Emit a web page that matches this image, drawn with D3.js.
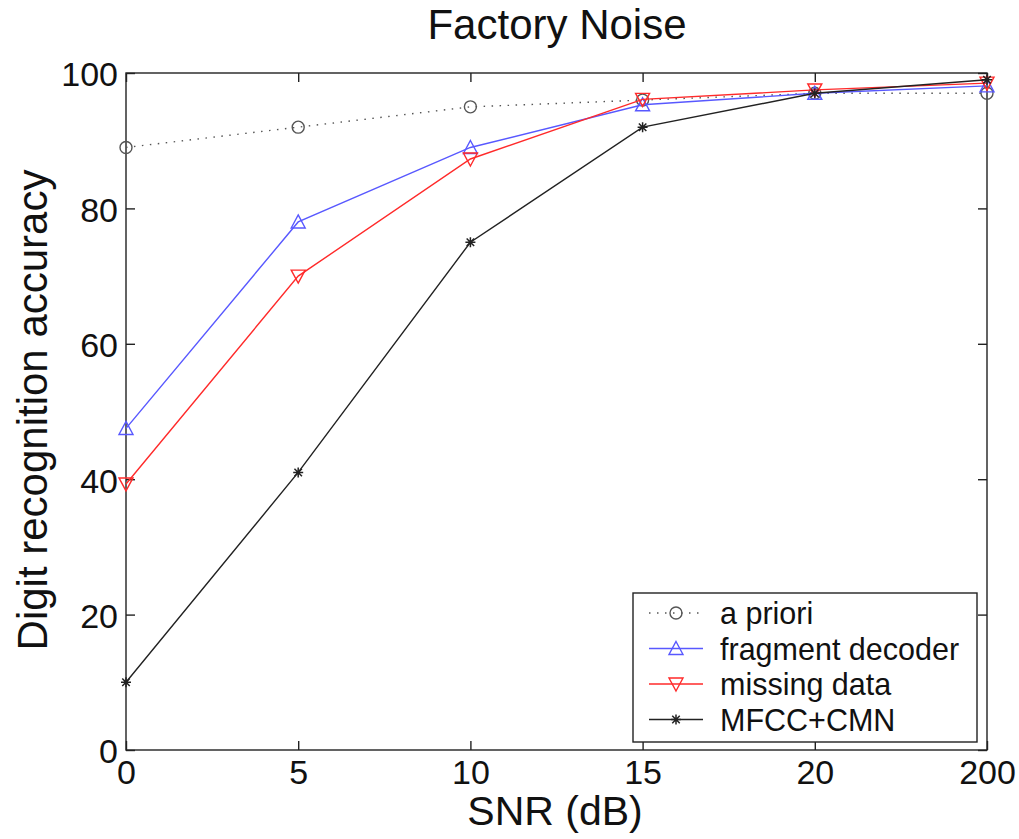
<!DOCTYPE html>
<html><head><meta charset="utf-8">
<script src="https://cdn.jsdelivr.net/npm/d3@7"></script>
<style>body{margin:0;background:#fff}svg{display:block}text{font-family:"Liberation Sans",Arial,sans-serif}</style>
</head><body>
<svg id="c" width="1019" height="839"></svg>
<script>
const categories = ["0","5","10","15","20","200"];
const aPriori = [89, 92, 95, 96, 97, 97];
const fragmentDecoder = [47.5, 78, 89, 95.3, 97, 98.1];
const missingData = [39.3, 70, 87.3, 96.1, 97.5, 98.5];
const mfccCmn = [10, 41, 75, 92, 97, 99];
const yTicks = [0, 20, 40, 60, 80, 100];

const svg = d3.select("#c");
const L = 126, R = 987, T = 73, B = 750;
const x = d3.scalePoint().domain(categories).range([L, R]);
const y = d3.scaleLinear().domain([0, 100]).range([B, T]);

svg.append("rect").attr("x", L).attr("y", T).attr("width", R - L).attr("height", B - T)
  .attr("fill", "none").attr("stroke", "#222").attr("stroke-width", 1.4);

const ax = svg.append("g").attr("transform", `translate(0,${B})`)
  .call(d3.axisBottom(x).tickSize(-9).tickPadding(14));
const axT = svg.append("g").attr("transform", `translate(0,${T})`)
  .call(d3.axisTop(x).tickSize(-9).tickFormat(""));
const ay = svg.append("g").attr("transform", `translate(${L},0)`)
  .call(d3.axisLeft(y).tickValues(yTicks).tickSize(-9).tickPadding(8));
const ayR = svg.append("g").attr("transform", `translate(${R},0)`)
  .call(d3.axisRight(y).tickValues(yTicks).tickSize(-9).tickFormat(""));
[ax, axT, ay, ayR].forEach(g => {
  g.select(".domain").remove();
  g.selectAll(".tick line").attr("stroke", "#222").attr("stroke-width", 1.4);
  g.selectAll("text").attr("font-size", 34).attr("fill", "#111")
    .attr("font-family", '"Liberation Sans",Arial,sans-serif');
});
ax.selectAll("text").attr("dy", "0.72em").attr("y", 10);
ay.selectAll("text").attr("dy", "0.38em");

svg.append("text").attr("x", 557).attr("y", 39).attr("text-anchor", "middle")
  .attr("font-size", 42).attr("fill", "#111").text("Factory Noise");
svg.append("text").attr("x", 555).attr("y", 825).attr("text-anchor", "middle")
  .attr("font-size", 41).attr("fill", "#111").text("SNR (dB)");
svg.append("text").attr("transform", "translate(47,410) rotate(-90)").attr("text-anchor", "middle")
  .attr("font-size", 42).attr("fill", "#111").text("Digit recognition accuracy");

const series = [
  {name: "a priori", values: aPriori, color: "#555", dash: "1.5,6.5", marker: "circle"},
  {name: "fragment decoder", values: fragmentDecoder, color: "#5858ff", dash: null, marker: "up"},
  {name: "missing data", values: missingData, color: "#ff2a2a", dash: null, marker: "down"},
  {name: "MFCC+CMN", values: mfccCmn, color: "#222", dash: null, marker: "star"}
];

function drawMarker(g, type, cx, cy, color) {
  if (type === "circle") {
    g.append("circle").attr("cx", cx).attr("cy", cy).attr("r", 6)
      .attr("fill", "none").attr("stroke", color).attr("stroke-width", 1.4);
  } else if (type === "up") {
    g.append("path").attr("d", `M${cx},${cy-7}L${cx+7},${cy+6}L${cx-7},${cy+6}Z`)
      .attr("fill", "none").attr("stroke", color).attr("stroke-width", 1.4);
  } else if (type === "down") {
    g.append("path").attr("d", `M${cx},${cy+7}L${cx+7},${cy-6}L${cx-7},${cy-6}Z`)
      .attr("fill", "none").attr("stroke", color).attr("stroke-width", 1.4);
  } else if (type === "star") {
    const s = 5;
    g.append("path").attr("d",
      `M${cx-s},${cy}L${cx+s},${cy}M${cx},${cy-s}L${cx},${cy+s}M${cx-s*0.75},${cy-s*0.75}L${cx+s*0.75},${cy+s*0.75}M${cx-s*0.75},${cy+s*0.75}L${cx+s*0.75},${cy-s*0.75}`)
      .attr("stroke", color).attr("stroke-width", 1.5);
  }
}

const line = d3.line().x((d, i) => x(categories[i])).y(d => y(d));
series.forEach(s => {
  const g = svg.append("g");
  g.append("path").datum(s.values).attr("d", line).attr("fill", "none")
    .attr("stroke", s.color).attr("stroke-width", 1.4)
    .attr("stroke-dasharray", s.dash);
  s.values.forEach((v, i) => drawMarker(g, s.marker, x(categories[i]), y(v), s.color));
});

const lg = svg.append("g");
lg.append("rect").attr("x", 633).attr("y", 593).attr("width", 344).attr("height", 149)
  .attr("fill", "#fff").attr("stroke", "#222").attr("stroke-width", 1.4);
series.forEach((s, i) => {
  const yy = 613 + i * 35.5;
  lg.append("line").attr("x1", 649).attr("x2", 703).attr("y1", yy).attr("y2", yy)
    .attr("stroke", s.color).attr("stroke-width", 1.4).attr("stroke-dasharray", s.dash);
  drawMarker(lg, s.marker, 676, yy, s.color);
  lg.append("text").attr("x", 720).attr("y", yy + 11).attr("font-size", 30.5)
    .attr("fill", "#111").text(s.name);
});
</script>
</body></html>
